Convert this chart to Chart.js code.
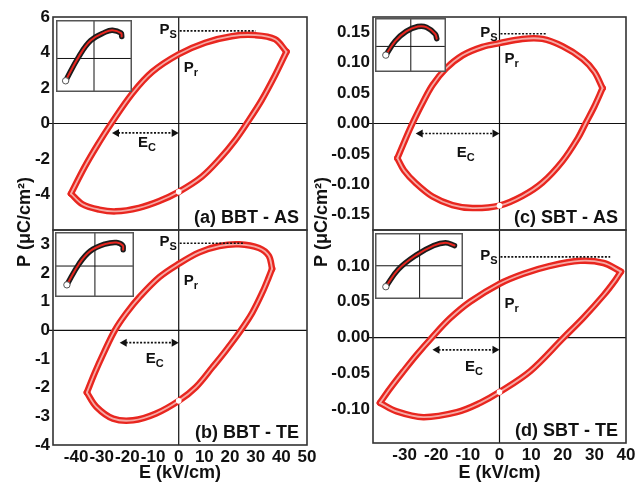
<!DOCTYPE html>
<html><head><meta charset="utf-8">
<script src="https://cdn.jsdelivr.net/npm/chart.js@4.4.1/dist/chart.umd.min.js"></script>
<style>
html,body{margin:0;padding:0;background:#fff;}
#wrap{position:relative;width:636px;height:486px;overflow:hidden;background:#fff;}
#wrap canvas{position:absolute;}
</style></head><body><div id="wrap"></div>
<script>
// ---------- Panel (a) BBT - AS ----------
const aUpperE = [-42.0, -36.7, -31.6, -26.3, -18.1, -10.3, 0, 10.3, 20.7, 29.7, 37.5, 42.0];
const aUpperP = [-3.95, -2.46, -1.20, 0, 1.69, 2.91, 3.90, 4.55, 4.92, 4.98, 4.75, 4.04];
const aLowerE = [-42.0, -37.5, -31.0, -24.5, -15.5, -7.8, 0, 9.0, 16.1, 22.0, 26.5, 32.3, 37.5, 42.0];
const aLowerP = [-3.95, -4.55, -4.85, -4.95, -4.75, -4.38, -3.85, -3.0, -1.97, -0.94, 0, 1.31, 2.70, 4.04];
// ---------- Panel (b) BBT - TE ----------
const bUpperE = [-35.8, -32.7, -29.4, -24.9, -20.4, -15.2, -7.5, 0, 8.0, 15.8, 23.5, 31.3, 35.1, 36.4];
const bUpperP = [-2.17, -1.48, -0.82, 0, 0.60, 1.17, 1.86, 2.32, 2.72, 2.94, 3.0, 2.87, 2.60, 2.15];
const bLowerE = [-35.8, -32.1, -25.6, -17.8, -8.8, 0, 6.7, 13.2, 18.4, 24.2, 28.7, 32.6, 35.1, 36.4];
const bLowerP = [-2.17, -2.67, -3.08, -3.14, -2.90, -2.46, -1.98, -1.28, -0.70, 0, 0.62, 1.32, 1.85, 2.15];
// ---------- Panel (c) SBT - AS ----------
const cUpperE = [-32.3, -30.5, -28.6, -27.0, -24.4, -21.2, -17.0, -11.7, -5.4, 0, 7.2, 13.6, 19.9, 26.3, 30.0, 32.6];
const cUpperP = [-0.057, -0.035, -0.012, 0.006, 0.033, 0.063, 0.090, 0.112, 0.126, 0.132, 0.139, 0.139, 0.127, 0.106, 0.085, 0.058];
const cLowerE = [-32.3, -30.2, -26.5, -21.2, -14.9, -8.5, 0, 7.3, 13.6, 19.9, 24.8, 27.2, 30.0, 32.6];
const cLowerP = [-0.057, -0.077, -0.098, -0.120, -0.134, -0.139, -0.135, -0.119, -0.097, -0.062, -0.024, 0, 0.028, 0.058];
// ---------- Panel (d) SBT - TE ----------
const dUpperE = [-37.8, -34.6, -30.4, -26.2, -21.4, -15.6, -9.3, 0, 7.6, 16.0, 25.5, 32.9, 38.4];
const dUpperP = [-0.091, -0.071, -0.047, -0.024, 0, 0.027, 0.050, 0.075, 0.089, 0.100, 0.107, 0.104, 0.092];
const dLowerE = [-37.8, -32.5, -24.1, -13.5, -6.1, 0, 9.7, 20.3, 26.6, 32.9, 36.6, 38.4];
const dLowerP = [-0.091, -0.103, -0.111, -0.104, -0.091, -0.076, -0.047, 0, 0.028, 0.059, 0.080, 0.092];

// ---------- Tick labels ----------
const aYTicks = [-4, -2, 0, 2, 4, 6];
const bYTicks = [-4, -3, -2, -1, 0, 1, 2, 3];
const cYTicks = [-0.15, -0.10, -0.05, 0, 0.05, 0.10, 0.15];
const dYTicks = [-0.10, -0.05, 0, 0.05, 0.10];
const bXTicks = [-40, -30, -20, -10, 0, 10, 20, 30, 40, 50];
const dXTicks = [-30, -20, -10, 0, 10, 20, 30, 40];

// ---------- Annotation values (panels a, b, c, d) ----------
const panelLabels = ['(a) BBT - AS', '(b) BBT - TE', '(c) SBT - AS', '(d) SBT - TE'];
const psLevel = [5.22, 3.04, 0.1475, 0.1125];
const psEnd = [30, 25.5, 14.6, 35];
const prLevel = [2.89, 1.57, 0.099, 0.041];
const ecLevel = [-0.53, -0.43, -0.0164, -0.0171];
const ecStart = [-26.0, -23.0, -26.5, -21.2];
const ecLabelLevel = [-1.32, -1.15, -0.0548, -0.0472];
const ecLabelE = [-12.4, -9.4, -10.7, -8.1];

// ---------- Insets (normalised 0-10 units) ----------
const insetAU = [0.7, 2.7, 4.5, 6.7, 7.8, 9.1, 9.2];
const insetAV = [1.0, 4.9, 7.5, 8.85, 9.15, 8.7, 8.15];
const insetBU = [1.0, 2.75, 4.4, 6.5, 8.2, 9.1, 9.15];
const insetBV = [1.3, 5.1, 7.45, 8.7, 9.0, 8.45, 7.7];
const insetCU = [0.95, 2.5, 4.3, 6.2, 7.6, 9.05, 9.3];
const insetCV = [2.7, 5.9, 8.1, 9.2, 9.05, 7.5, 6.45];
const insetDU = [0.75, 2.35, 4.6, 6.9, 8.4, 9.55];
const insetDV = [1.3, 4.4, 6.9, 8.65, 9.15, 8.65];
const insetGridU = [5.0, 5.06, 5.05, 5.08];
const insetGridV = [4.6, 4.72, 4.68, 5.04];

const RED = '#e8261f';
const PINK = '#f6aaa5';
const FONT = '"Liberation Sans", Arial, Helvetica, sans-serif';
const TXT = '#111';
const W = 636, H = 486;

function pts(xs, ys) { return xs.map((x, i) => ({x: x, y: ys[i]})); }

function loopDatasets(uE, uP, lE, lP) {
  const base = {showLine: true, tension: 0.35, pointRadius: 0, pointHoverRadius: 0,
    borderCapStyle: 'round', borderJoinStyle: 'round', fill: false};
  return [
    Object.assign({}, base, {data: pts(uE, uP), borderColor: RED, borderWidth: 6.5, order: 3}),
    Object.assign({}, base, {data: pts(lE, lP), borderColor: RED, borderWidth: 6.5, order: 3}),
    Object.assign({}, base, {data: pts(uE, uP), borderColor: PINK, borderWidth: 1.8, order: 2}),
    Object.assign({}, base, {data: pts(lE, lP), borderColor: PINK, borderWidth: 1.8, order: 1,
      pointRadius: c => (c.raw && c.raw.x === 0) ? 2.8 : 0,
      pointBackgroundColor: '#fff', pointBorderColor: '#fff', pointBorderWidth: 0})
  ];
}

function subText(ctx, main, sub, x, y, align) {
  ctx.font = 'bold 15px ' + FONT;
  const w1 = ctx.measureText(main).width;
  ctx.font = 'bold 11px ' + FONT;
  const w2 = ctx.measureText(sub).width;
  let sx = align === 'right' ? x - w1 - w2 : (align === 'center' ? x - (w1 + w2) / 2 : x);
  ctx.textAlign = 'left'; ctx.textBaseline = 'alphabetic'; ctx.fillStyle = TXT;
  ctx.font = 'bold 15px ' + FONT; ctx.fillText(main, sx, y);
  ctx.font = 'bold 11px ' + FONT; ctx.fillText(sub, sx + w1, y + 4);
}

function arrowHead(ctx, x, y, dir) {
  ctx.beginPath();
  ctx.moveTo(x, y);
  ctx.lineTo(x - dir * 7, y - 4);
  ctx.lineTo(x - dir * 7, y + 4);
  ctx.closePath();
  ctx.fill();
}

function decoPlugin(i) {
  return {
    id: 'deco' + i,
    beforeDatasetsDraw(chart) {
      const {ctx, chartArea: a} = chart;
      const x = chart.scales.x, y = chart.scales.y;
      const x0 = x.getPixelForValue(0), y0 = y.getPixelForValue(0);
      ctx.save();
      ctx.strokeStyle = '#111'; ctx.lineWidth = 1.2;
      ctx.beginPath();
      ctx.moveTo(a.left - 4, y0); ctx.lineTo(a.right, y0);
      ctx.moveTo(x0, a.top); ctx.lineTo(x0, a.bottom);
      ctx.stroke();
      ctx.restore();
    },
    afterDatasetsDraw(chart) {
      const {ctx, chartArea: a} = chart;
      const x = chart.scales.x, y = chart.scales.y;
      const x0 = x.getPixelForValue(0);
      ctx.save();
      ctx.strokeStyle = '#333'; ctx.lineWidth = 1.6;
      ctx.strokeRect(a.left, a.top, a.right - a.left, a.bottom - a.top);
      const py = y.getPixelForValue(psLevel[i]);
      ctx.strokeStyle = '#111'; ctx.lineWidth = 1.6; ctx.setLineDash([2, 1.6]);
      ctx.beginPath(); ctx.moveTo(x0 + 1, py); ctx.lineTo(x.getPixelForValue(psEnd[i]), py); ctx.stroke();
      subText(ctx, 'P', 'S', x0 - 2, py + 3, 'right');
      subText(ctx, 'P', 'r', x0 + 5, y.getPixelForValue(prLevel[i]), 'left');
      const ey = y.getPixelForValue(ecLevel[i]);
      const ex1 = x.getPixelForValue(ecStart[i]);
      ctx.beginPath(); ctx.moveTo(ex1 + 6, ey); ctx.lineTo(x0 - 6, ey); ctx.stroke();
      ctx.setLineDash([]);
      ctx.fillStyle = '#111';
      arrowHead(ctx, ex1, ey, -1);
      arrowHead(ctx, x0, ey, 1);
      subText(ctx, 'E', 'C', x.getPixelForValue(ecLabelE[i]), y.getPixelForValue(ecLabelLevel[i]), 'center');
      ctx.font = 'bold 18px ' + FONT; ctx.fillStyle = TXT;
      ctx.textAlign = 'right'; ctx.textBaseline = 'alphabetic';
      ctx.fillText(panelLabels[i], a.right - 8, a.bottom - 7);
      ctx.font = 'bold 18px ' + FONT; ctx.textAlign = 'center'; ctx.textBaseline = 'middle';
      if (i === 0 || i === 2) {
        ctx.save();
        ctx.translate(i === 0 ? 25 : 322, 222);
        ctx.rotate(-Math.PI / 2);
        ctx.fillText('P (\u03bcC/cm\u00b2)', 0, 0);
        ctx.restore();
      } else {
        ctx.fillText('E (kV/cm)', (a.left + a.right) / 2, 473);
      }
      ctx.restore();
    }
  };
}

const panels = [
  {area: [53, 17, 307, 230], xr: [-49, 50], yr: [-6, 6], xTicks: null, yTicks: aYTicks, dec: 0, d: [aUpperE, aUpperP, aLowerE, aLowerP]},
  {area: [53, 230, 307, 445], xr: [-49, 50], yr: [-4, 3.5], xTicks: bXTicks, yTicks: bYTicks, dec: 0, d: [bUpperE, bUpperP, bLowerE, bLowerP]},
  {area: [373, 17, 626, 230], xr: [-40, 40], yr: [-0.175, 0.175], xTicks: null, yTicks: cYTicks, dec: 2, d: [cUpperE, cUpperP, cLowerE, cLowerP]},
  {area: [373, 230, 626, 443], xr: [-40, 40], yr: [-0.147, 0.15], xTicks: dXTicks, yTicks: dYTicks, dec: 2, d: [dUpperE, dUpperP, dLowerE, dLowerP]}
];

const wrap = document.getElementById('wrap');
const tickFont = {family: FONT, size: 17, weight: 'bold'};

panels.forEach((p, i) => {
  const cv = document.createElement('canvas');
  cv.width = W; cv.height = H; cv.style.left = '0px'; cv.style.top = '0px';
  wrap.appendChild(cv);
  const yW = 45, xH = p.xTicks ? 28 : 0;
  const [l, t, r, b] = p.area;
  new Chart(cv, {
    type: 'scatter',
    data: {datasets: loopDatasets(p.d[0], p.d[1], p.d[2], p.d[3])},
    options: {
      responsive: false, animation: false, devicePixelRatio: 1,
      layout: {padding: {left: l - yW, top: t, right: W - r, bottom: H - b - xH}},
      plugins: {legend: {display: false}, tooltip: {enabled: false}},
      scales: {
        x: {
          type: 'linear', min: p.xr[0], max: p.xr[1], display: !!p.xTicks,
          grid: {display: false, drawTicks: false, tickLength: 0}, border: {display: false},
          afterBuildTicks: s => { if (p.xTicks) s.ticks = p.xTicks.map(v => ({value: v})); },
          afterFit: s => { s.height = xH; s.paddingLeft = 0; s.paddingRight = 0; },
          ticks: {font: tickFont, color: TXT, padding: 2, autoSkip: false, maxRotation: 0, minRotation: 0,
            callback: v => String(v)}
        },
        y: {
          type: 'linear', min: p.yr[0], max: p.yr[1],
          grid: {display: false, drawTicks: false, tickLength: 0}, border: {display: false},
          afterBuildTicks: s => { s.ticks = p.yTicks.map(v => ({value: v})); },
          afterFit: s => { s.width = yW; s.paddingTop = 0; s.paddingBottom = 0; },
          ticks: {font: tickFont, color: TXT, padding: 3, autoSkip: false,
            callback: v => Number(v).toFixed(p.dec)}
        }
      }
    },
    plugins: [decoPlugin(i)]
  });
});

// ---------- insets ----------
const insets = [
  {box: [56, 20, 76, 72], u: insetAU, v: insetAV},
  {box: [55, 232, 79, 65], u: insetBU, v: insetBV},
  {box: [375, 18, 71, 54], u: insetCU, v: insetCV},
  {box: [375, 233, 88, 66], u: insetDU, v: insetDV}
];

insets.forEach((q, i) => {
  const [l, t, w, h] = q.box;
  const cv = document.createElement('canvas');
  cv.width = w; cv.height = h; cv.style.left = l + 'px'; cv.style.top = t + 'px';
  wrap.appendChild(cv);
  const data = pts(q.u, q.v);
  new Chart(cv, {
    type: 'scatter',
    data: {datasets: [
      {data: data, showLine: true, tension: 0.4, borderColor: '#1c1c1c', borderWidth: 5.5,
        borderCapStyle: 'round', pointRadius: 0, order: 3},
      {data: data, showLine: true, tension: 0.4, borderColor: RED, borderWidth: 2,
        borderCapStyle: 'round', pointRadius: 0, order: 2},
      {data: [data[0]], showLine: false, pointRadius: 3.2, pointBackgroundColor: '#fff', pointBorderColor: '#555', pointBorderWidth: 1, order: 1}
    ]},
    options: {
      responsive: false, animation: false, devicePixelRatio: 1,
      layout: {padding: 0},
      plugins: {legend: {display: false}, tooltip: {enabled: false}},
      scales: {
        x: {type: 'linear', min: 0, max: 10, display: false},
        y: {type: 'linear', min: 0, max: 10, display: false}
      }
    },
    plugins: [{
      id: 'insetDeco' + i,
      beforeDraw(chart) {
        const c = chart.ctx;
        c.save(); c.fillStyle = '#fff'; c.fillRect(0, 0, w, h); c.restore();
      },
      beforeDatasetsDraw(chart) {
        const c = chart.ctx;
        const gx = chart.scales.x.getPixelForValue(insetGridU[i]);
        const gy = chart.scales.y.getPixelForValue(insetGridV[i]);
        c.save(); c.strokeStyle = '#111'; c.lineWidth = 1;
        c.beginPath(); c.moveTo(gx, 0); c.lineTo(gx, h); c.moveTo(0, gy); c.lineTo(w, gy); c.stroke();
        c.restore();
      },
      afterDraw(chart) {
        const c = chart.ctx;
        c.save(); c.strokeStyle = '#555'; c.lineWidth = 1.5;
        c.strokeRect(0.75, 0.75, w - 1.5, h - 1.5);
        c.restore();
      }
    }]
  });
});
</script></body></html>
